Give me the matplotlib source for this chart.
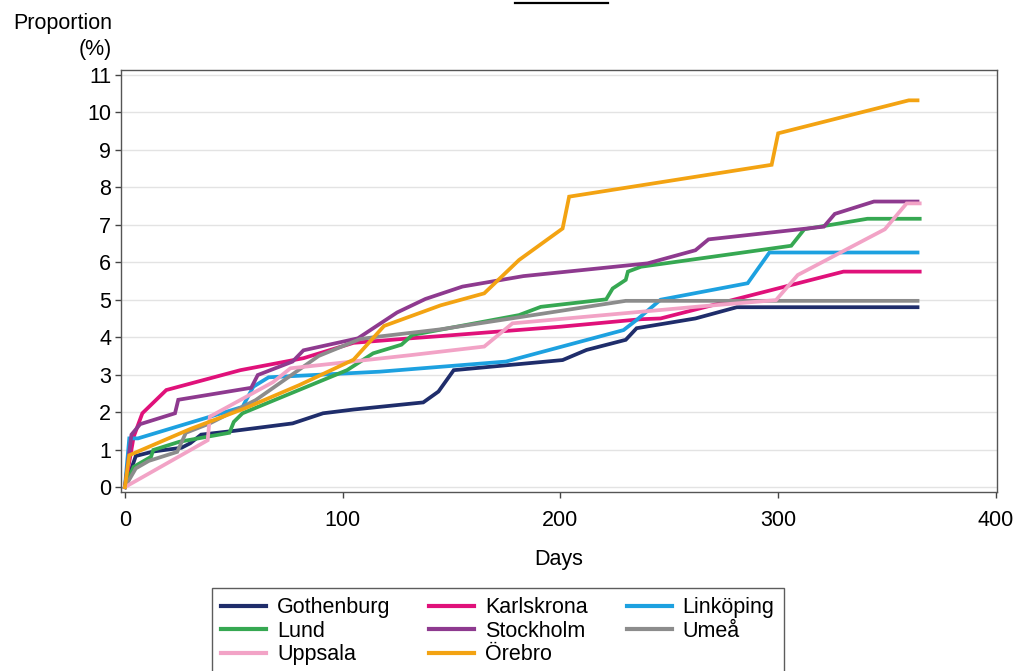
import matplotlib
matplotlib.use("Agg")
import matplotlib.pyplot as plt
from matplotlib.lines import Line2D

plt.rcParams['font.family'] = ['Liberation Sans', 'DejaVu Sans']

# cumulative proportion (%) by days
goth_days = [0, 5, 13, 26, 30, 35, 50, 77, 91, 105, 137, 144, 151, 175, 201, 212, 230, 235, 262, 281, 364]
goth_vals = [0, 0.83, 0.95, 1.05, 1.17, 1.4, 1.5, 1.7, 1.97, 2.07, 2.26, 2.55, 3.12, 3.25, 3.39, 3.66, 3.93, 4.24, 4.5, 4.8, 4.8]

karl_days = [0, 4, 8, 19, 53, 82, 105, 131, 145, 200, 237, 246, 330, 365]
karl_vals = [0, 1.34, 1.97, 2.59, 3.12, 3.44, 3.85, 3.97, 4.03, 4.28, 4.48, 4.5, 5.75, 5.75]

link_days = [0, 2, 6, 54, 59, 66, 117, 175, 229, 235, 246, 286, 296, 364]
link_vals = [0, 1.3, 1.3, 2.14, 2.68, 2.93, 3.08, 3.35, 4.19, 4.46, 5.0, 5.44, 6.26, 6.26]

lund_days = [0, 4, 12, 13, 25, 48, 50, 54, 102, 114, 127, 132, 181, 191, 221, 224, 230, 231, 237, 306, 312, 341, 365]
lund_vals = [0, 0.54, 0.81, 0.99, 1.21, 1.45, 1.74, 1.97, 3.12, 3.57, 3.8, 4.06, 4.59, 4.81, 5.01, 5.3, 5.53, 5.75, 5.88, 6.44, 6.88, 7.16, 7.16]

stock_days = [0, 3, 7, 23, 24.5, 58, 61, 77, 82, 107, 125, 138, 155, 183, 240, 262, 268, 321, 326, 344, 364]
stock_vals = [0, 1.4, 1.68, 1.97, 2.33, 2.65, 2.99, 3.35, 3.65, 3.97, 4.66, 5.02, 5.35, 5.63, 5.97, 6.32, 6.61, 6.95, 7.29, 7.62, 7.62]

umea_days = [0, 5, 11, 24, 28, 39, 60, 89, 108, 117, 145, 230, 364]
umea_vals = [0, 0.5, 0.7, 0.94, 1.45, 1.7, 2.32, 3.5, 3.95, 4.02, 4.21, 4.97, 4.97]

upp_days = [0, 38, 39, 68, 76, 131, 165, 178, 264, 299, 309, 349, 359, 365]
upp_vals = [0, 1.25, 1.88, 2.8, 3.17, 3.52, 3.75, 4.37, 4.82, 4.99, 5.66, 6.88, 7.57, 7.57]

ore_days = [0, 2, 30, 55, 80, 105, 119, 145, 165, 181, 201, 204, 297, 300, 360, 364]
ore_vals = [0, 0.85, 1.55, 2.1, 2.72, 3.4, 4.3, 4.85, 5.17, 6.06, 6.9, 7.75, 8.6, 9.44, 10.32, 10.32]

series = [
    ("Gothenburg", goth_days, goth_vals, "#1f2d6b"),
    ("Karlskrona", karl_days, karl_vals, "#e0117a"),
    ("Linköping", link_days, link_vals, "#1da1e0"),
    ("Lund", lund_days, lund_vals, "#36a852"),
    ("Stockholm", stock_days, stock_vals, "#8e3a8f"),
    ("Umeå", umea_days, umea_vals, "#8c8c8c"),
    ("Uppsala", upp_days, upp_vals, "#f2a3c6"),
    ("Örebro", ore_days, ore_vals, "#f3a312"),
]

FS = 15.5

fig = plt.figure(figsize=(10.16, 6.71), dpi=100)
ax = fig.add_axes([0.1191, 0.2668, 0.8622, 0.6289])

for y in range(0, 12):
    ax.axhline(y, color="#e3e3e3", lw=1, zorder=0)

handles = []
for name, d, v, c in series:
    ln, = ax.plot(d, v, color=c, lw=2.7, label=name, solid_joinstyle="miter")
    handles.append(ln)

ax.set_xlim(-1.8, 400.5)
ax.set_ylim(-0.13, 11.13)
ax.set_xticks([0, 100, 200, 300, 400])
ax.set_yticks(range(0, 12))
ax.tick_params(direction="out", length=4, width=1, labelsize=FS, color="#444444")
ax.tick_params(axis="x", pad=9)
ax.tick_params(axis="y", pad=3)
for s in ax.spines.values():
    s.set_color("#555555")
    s.set_linewidth(1)
ax.set_xlabel("Days", fontsize=FS, labelpad=13)

fig.text(112 / 1016, 1 - 13 / 671, "Proportion\n(%)", ha="right", va="top",
         multialignment="right", fontsize=FS, linespacing=1.3)

# matplotlib fills legend columns first; reorder so rows read left to right
order = [0, 3, 6, 1, 4, 7, 2, 5]
leg = fig.legend([handles[i] for i in order], [series[i][0] for i in order],
                 loc="upper left", bbox_to_anchor=(212 / 1016, 1 - 588 / 671), ncol=3,
                 fontsize=FS, frameon=True, fancybox=False, edgecolor="#333333",
                 handlelength=2.1, handletextpad=0.5, columnspacing=1.8,
                 labelspacing=0.12, borderpad=0.42, borderaxespad=0)
leg.get_frame().set_linewidth(1)
for h in leg.get_lines():
    h.set_linewidth(3)

# dark rule at the top edge of the page
fig.add_artist(Line2D([515 / 1016, 608 / 1016], [1 - 3 / 671, 1 - 3 / 671],
                      color="black", lw=1.6, transform=fig.transFigure))

fig.savefig("out.png", dpi=100)
